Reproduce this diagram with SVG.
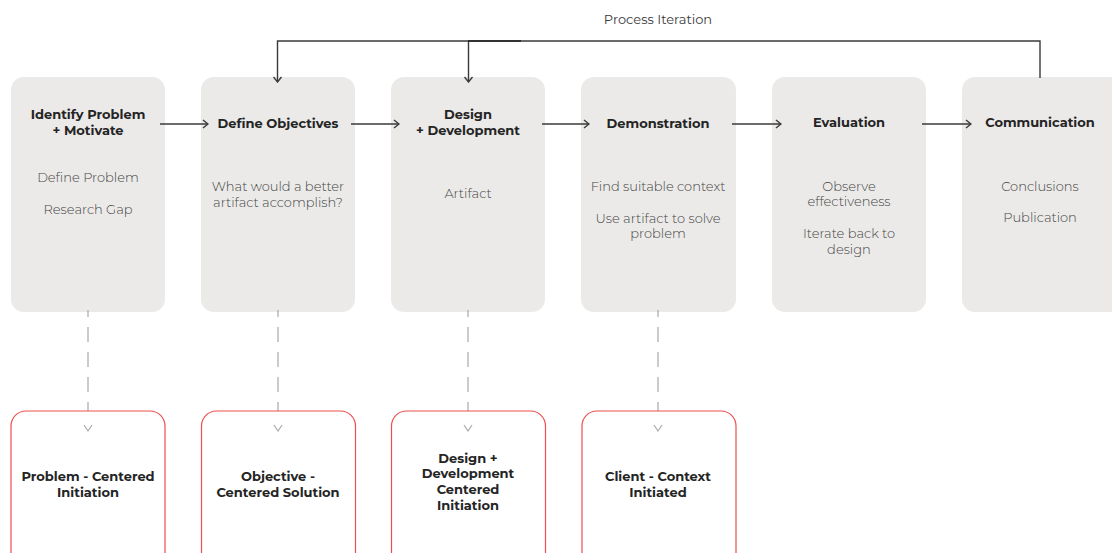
<svg xmlns="http://www.w3.org/2000/svg" width="1112" height="553" viewBox="0 0 1112 553">
<defs>
<style>
.stage{fill:#ebeae8;}
.out{fill:#ffffff;stroke:#ef4e4e;stroke-width:1.2;}
.t{font-family:"Montserrat","Open Sans","Liberation Sans",sans-serif;font-size:13px;font-weight:700;fill:#242424;text-anchor:middle;}
.s{font-family:"Montserrat","Open Sans","Liberation Sans",sans-serif;font-size:13px;font-weight:300;fill:#454545;text-anchor:middle;}
.lbl{font-family:"Montserrat","Open Sans","Liberation Sans",sans-serif;font-size:13px;font-weight:400;fill:#3a3a3a;text-anchor:middle;}
.flow{fill:none;stroke:#3a3a3a;stroke-width:1.4;}
.dash{fill:none;stroke:#a9a9a3;stroke-width:1.2;stroke-dasharray:15 10;stroke-dashoffset:8;}
.dhead{fill:none;stroke:#a9a9a3;stroke-width:1.2;}
</style>
<marker id="arr" viewBox="0 0 10 10" refX="9" refY="5" markerWidth="10" markerHeight="10" markerUnits="userSpaceOnUse" orient="auto">
<path d="M4,1 L9,5 L4,9" fill="none" stroke="#3a3a3a" stroke-width="1.4"/>
</marker>
</defs>

<text class="lbl" x="658" y="24">Process Iteration</text>

<g id="n1"><rect class="stage" x="11" y="77" width="154" height="235" rx="13"/>
<text class="t" x="88" y="119">Identify Problem</text><text class="t" x="88" y="135">+ Motivate</text>
<text class="s" x="88" y="182">Define Problem</text><text class="s" x="88" y="214">Research Gap</text></g>

<g id="n2"><rect class="stage" x="201" y="77" width="154" height="235" rx="13"/>
<text class="t" x="278" y="128">Define Objectives</text>
<text class="s" x="278" y="191">What would a better</text><text class="s" x="278" y="207">artifact accomplish?</text></g>

<g id="n3"><rect class="stage" x="391" y="77" width="154" height="235" rx="13"/>
<text class="t" x="468" y="119">Design</text><text class="t" x="468" y="135">+ Development</text>
<text class="s" x="468" y="198">Artifact</text></g>

<g id="n4"><rect class="stage" x="581" y="77" width="155" height="235" rx="13"/>
<text class="t" x="658" y="128">Demonstration</text>
<text class="s" x="658" y="191">Find suitable context</text>
<text class="s" x="658" y="223">Use artifact to solve</text><text class="s" x="658" y="238">problem</text></g>

<g id="n5"><rect class="stage" x="772" y="77" width="154" height="235" rx="13"/>
<text class="t" x="849" y="127">Evaluation</text>
<text class="s" x="849" y="191">Observe</text><text class="s" x="849" y="206">effectiveness</text>
<text class="s" x="849" y="238">Iterate back to</text><text class="s" x="849" y="254">design</text></g>

<g id="n6"><rect class="stage" x="962" y="77" width="160" height="235" rx="13"/>
<text class="t" x="1040" y="127">Communication</text>
<text class="s" x="1040" y="191">Conclusions</text><text class="s" x="1040" y="222">Publication</text></g>

<g id="connectors">
<line class="flow" x1="160" y1="124" x2="208" y2="124" marker-end="url(#arr)"/>
<line class="flow" x1="351" y1="124" x2="399" y2="124" marker-end="url(#arr)"/>
<line class="flow" x1="542" y1="124" x2="589" y2="124" marker-end="url(#arr)"/>
<line class="flow" x1="732" y1="124" x2="781" y2="124" marker-end="url(#arr)"/>
<line class="flow" x1="922" y1="124" x2="971" y2="124" marker-end="url(#arr)"/>
<path class="flow" d="M1040,78 V41 H277.5 V82" marker-end="url(#arr)"/>
<path class="flow" d="M468.5,41 V82" marker-end="url(#arr)"/>
<line x1="468" y1="41" x2="521" y2="41" stroke="#222" stroke-width="1.6"/>
<line class="dash" x1="88" y1="310" x2="88" y2="412"/>
<line class="dash" x1="278" y1="310" x2="278" y2="412"/>
<line class="dash" x1="468" y1="310" x2="468" y2="412"/>
<line class="dash" x1="658" y1="310" x2="658" y2="412"/>
</g>

<g id="o1"><rect class="out" x="11" y="411" width="154" height="160" rx="15"/>
<text class="t" x="88" y="481">Problem - Centered</text><text class="t" x="88" y="497">Initiation</text></g>
<g id="o2"><rect class="out" x="201.5" y="411" width="154" height="160" rx="15"/>
<text class="t" x="278" y="481">Objective -</text><text class="t" x="278" y="497">Centered Solution</text></g>
<g id="o3"><rect class="out" x="391.5" y="411" width="154" height="160" rx="15"/>
<text class="t" x="468" y="463">Design +</text><text class="t" x="468" y="478">Development</text>
<text class="t" x="468" y="494">Centered</text><text class="t" x="468" y="510">Initiation</text></g>
<g id="o4"><rect class="out" x="582" y="411" width="154" height="160" rx="15"/>
<text class="t" x="658" y="481">Client - Context</text><text class="t" x="658" y="497">Initiated</text></g>

<g id="dashheads">
<path class="dhead" d="M84,425 L88,431 L92,425"/>
<path class="dhead" d="M274,425 L278,431 L282,425"/>
<path class="dhead" d="M464,425 L468,431 L472,425"/>
<path class="dhead" d="M654,425 L658,431 L662,425"/>
</g>
</svg>
